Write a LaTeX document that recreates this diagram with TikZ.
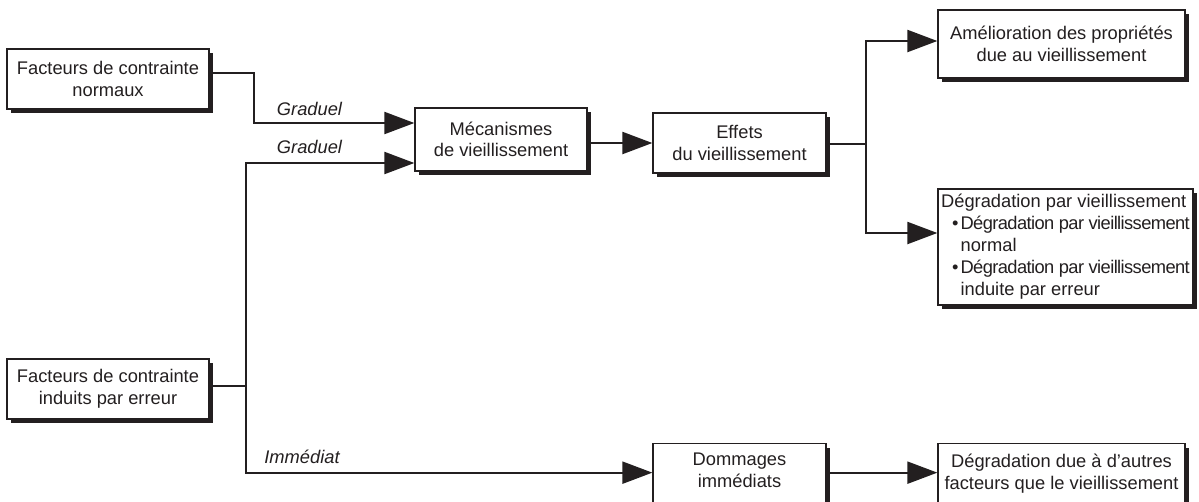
\documentclass[tikz,border=0pt]{standalone}
\usepackage{fontspec}
\setmainfont{Liberation Sans}
\usetikzlibrary{arrows.meta,shadows,calc}
\definecolor{ink}{HTML}{231F20}
\begin{document}
\begin{tikzpicture}[x=1pt,y=-1pt,
  box/.style={draw=ink, line width=1.3pt, fill=white,
    drop shadow={shadow xshift=4pt, shadow yshift=-4pt, opacity=1, fill=ink},
    align=center, inner sep=0pt, font=\fontsize{18.3}{21.5}\selectfont, text=ink},
  txt/.style={align=center, inner sep=0pt, font=\fontsize{18.3}{22}\selectfont, text=ink},
  conn/.style={draw=ink, line width=2.2pt},
  arr/.style={conn, -{Triangle[length=30pt,width=22pt]}},
  lbl/.style={font=\fontsize{18.3}{21.5}\selectfont\itshape, text=ink, anchor=base, inner sep=0pt}]
\useasboundingbox (0,0) rectangle (1199,501);
\clip (0,0) rectangle (1199,501);
\fill[white] (0,0) rectangle (1199,501);

% boxes
\node[box, minimum width=202pt, minimum height=60pt] (n1) at (108,79) {Facteurs de contrainte\\normaux};
\node[box, minimum width=202pt, minimum height=60pt] (n6) at (108,389) {Facteurs de contrainte\\induits par erreur};
\node[box, minimum width=172pt, minimum height=63pt] (mec) at (501,139.5) {Mécanismes\\de vieillissement};
\node[box, minimum width=173pt, minimum height=60pt] (eff) at (739.5,143) {Effets\\du vieillissement};
\node[box, minimum width=247pt, minimum height=68pt] (ame) at (1061.5,44) {Amélioration des propriétés\\due au vieillissement};
\node[box, minimum width=255pt, minimum height=116pt, align=left, font=\fontsize{18.3}{22}\selectfont] (deg) at (1065.5,247)
  {Dégradation par vieillissement\\
   \hspace*{11pt}•\hspace{2pt}{\addfontfeature{LetterSpace=-3.2}Dégradation par vieillissement}\\
   \hspace*{19.5pt}normal\\
   \hspace*{11pt}•\hspace{2pt}{\addfontfeature{LetterSpace=-3.2}Dégradation par vieillissement}\\
   \hspace*{19.5pt}induite par erreur};
\node[box, minimum width=173pt, minimum height=80pt, anchor=north] (dom) at (739.5,443) {};
\node[txt] (domt) at (739.5,470) {Dommages\\immédiats};
\node[box, minimum width=247pt, minimum height=80pt, anchor=north] (dd) at (1061.5,443) {};
\node[txt] (ddt) at (1061.5,474) {Dégradation due à d’autres\\facteurs que le vieillissement};

% labels
\node[lbl] (g1) at (309.5,115) {Graduel};
\node[lbl] (g2) at (309.5,153) {Graduel};
\node[lbl] (im) at (302,463) {Immédiat};

% connectors
\draw[arr] ([yshift=6pt]n1.east) -- ++(44,0) |- ([yshift=16.5pt]mec.west);
\draw[conn] ([yshift=3pt]n6.east) -- ++(36,0) coordinate (j2);
\draw[arr] (j2) |- ([yshift=-23.5pt]mec.west);
\draw[arr] (j2) |- ([yshift=11pt]dom.west);
\draw[arr] (eff.west -| mec.east) -- (eff.west);
\draw[conn] ([yshift=-1pt]eff.east) -- ++(39,0) coordinate (j3);
\draw[arr] (j3) |- ([yshift=3pt]ame.west);
\draw[arr] (j3) |- ([yshift=14pt]deg.west);
\draw[arr] ([yshift=11pt]dom.east) -- ([yshift=11pt]dd.west);
\end{tikzpicture}
\end{document}
